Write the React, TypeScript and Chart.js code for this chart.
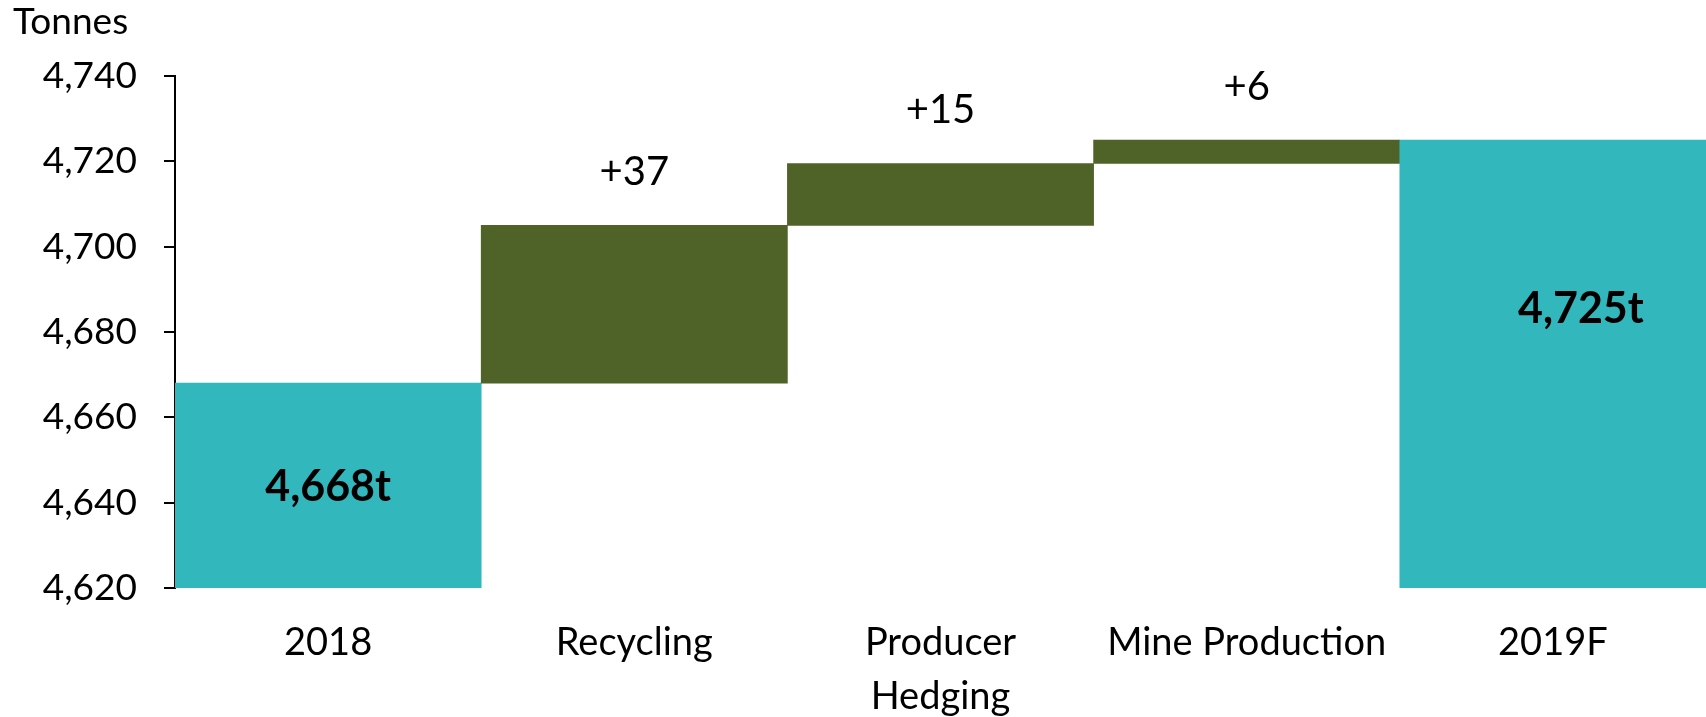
import React, { useEffect, useRef } from "react";
import { Chart, registerables } from "chart.js";

Chart.register(...registerables);

const categories: (string | string[])[] = ["2018", "Recycling", ["Producer", "Hedging"], "Mine Production", "2019F"];
const barStarts = [4620, 4668, 4705, 4719.5, 4620];
const barEnds = [4668, 4705, 4719.5, 4725, 4725];
const barLabels = ["4,668t", "+37", "+15", "+6", "4,725t"];
const barKinds = ["total", "delta", "delta", "delta", "total"];
const yTicks = [4620, 4640, 4660, 4680, 4700, 4720, 4740];

const TEAL = "#32B7BD";
const OLIVE = "#4F6228";
const FONT = "Lato, 'Noto Sans', sans-serif";

const labelPlugin = {
  id: "wfLabels",
  afterDatasetsDraw(chart: any) {
    const ctx = chart.ctx;
    const meta = chart.getDatasetMeta(0);
    ctx.save();
    ctx.fillStyle = "#000";
    ctx.textAlign = "center";
    ctx.textBaseline = "middle";
    meta.data.forEach((bar: any, i: number) => {
      const top = Math.min(bar.y, bar.base);
      const bottom = Math.max(bar.y, bar.base);
      if (barKinds[i] === "delta") {
        ctx.font = `40px ${FONT}`;
        ctx.fillText(barLabels[i], bar.x, top - 53);
      } else {
        ctx.font = `bold 43px ${FONT}`;
        const last = i === barKinds.length - 1;
        const dx = last ? 28 : 0;
        const dy = last ? -55 : 2;
        ctx.fillText(barLabels[i], bar.x + dx, (top + bottom) / 2 + dy);
      }
    });
    // axis unit title
    ctx.textAlign = "left";
    ctx.font = `37px ${FONT}`;
    ctx.fillText("Tonnes", 13, 22);
    ctx.restore();
  },
};

export default function App() {
  const ref = useRef<HTMLCanvasElement>(null);
  useEffect(() => {
    document.body.style.margin = "0";
    const data = barStarts.map((s, i) => [s, barEnds[i]]);
    const chart = new Chart(ref.current as HTMLCanvasElement, {
      type: "bar",
      data: {
        labels: categories as any,
        datasets: [
          {
            data: data as any,
            backgroundColor: barKinds.map((k) => (k === "total" ? TEAL : OLIVE)),
            borderWidth: 0,
            barPercentage: 1,
            categoryPercentage: 1,
          },
        ],
      },
      options: {
        animation: false,
        responsive: false,
        maintainAspectRatio: false,
        layout: { padding: { top: 76, left: 0, right: 0, bottom: 0 } },
        plugins: {
          legend: { display: false },
          tooltip: { enabled: false },
          title: { display: false },
        },
        scales: {
          x: {
            grid: { display: false, drawTicks: false },
            border: { display: false },
            ticks: {
              color: "#000",
              font: { family: FONT, size: 38, lineHeight: 1.42 },
              padding: 28,
              maxRotation: 0,
              autoSkip: false,
            },
            afterFit: (scale: any) => {
              scale.height = 129;
            },
          },
          y: {
            min: yTicks[0],
            max: yTicks[yTicks.length - 1],
            afterBuildTicks: (scale: any) => {
              scale.ticks = yTicks.map((v) => ({ value: v }));
            },
            grid: {
              display: true,
              drawOnChartArea: false,
              drawTicks: true,
              tickLength: 11,
              color: "#000",
              lineWidth: 2,
            },
            border: { display: true, color: "#000", width: 2 },
            ticks: {
              color: "#000",
              font: { family: FONT, size: 37 },
              padding: 27,
              callback: (v: any) => Number(v).toLocaleString("en-US"),
            },
            afterFit: (scale: any) => {
              scale.width = 175;
            },
          },
        },
      },
      plugins: [labelPlugin],
    });
    return () => chart.destroy();
  }, []);
  return (
    <div style={{ width: 1706, height: 717, background: "#fff" }}>
      <canvas ref={ref} width={1706} height={717} style={{ display: "block" }} />
    </div>
  );
}
